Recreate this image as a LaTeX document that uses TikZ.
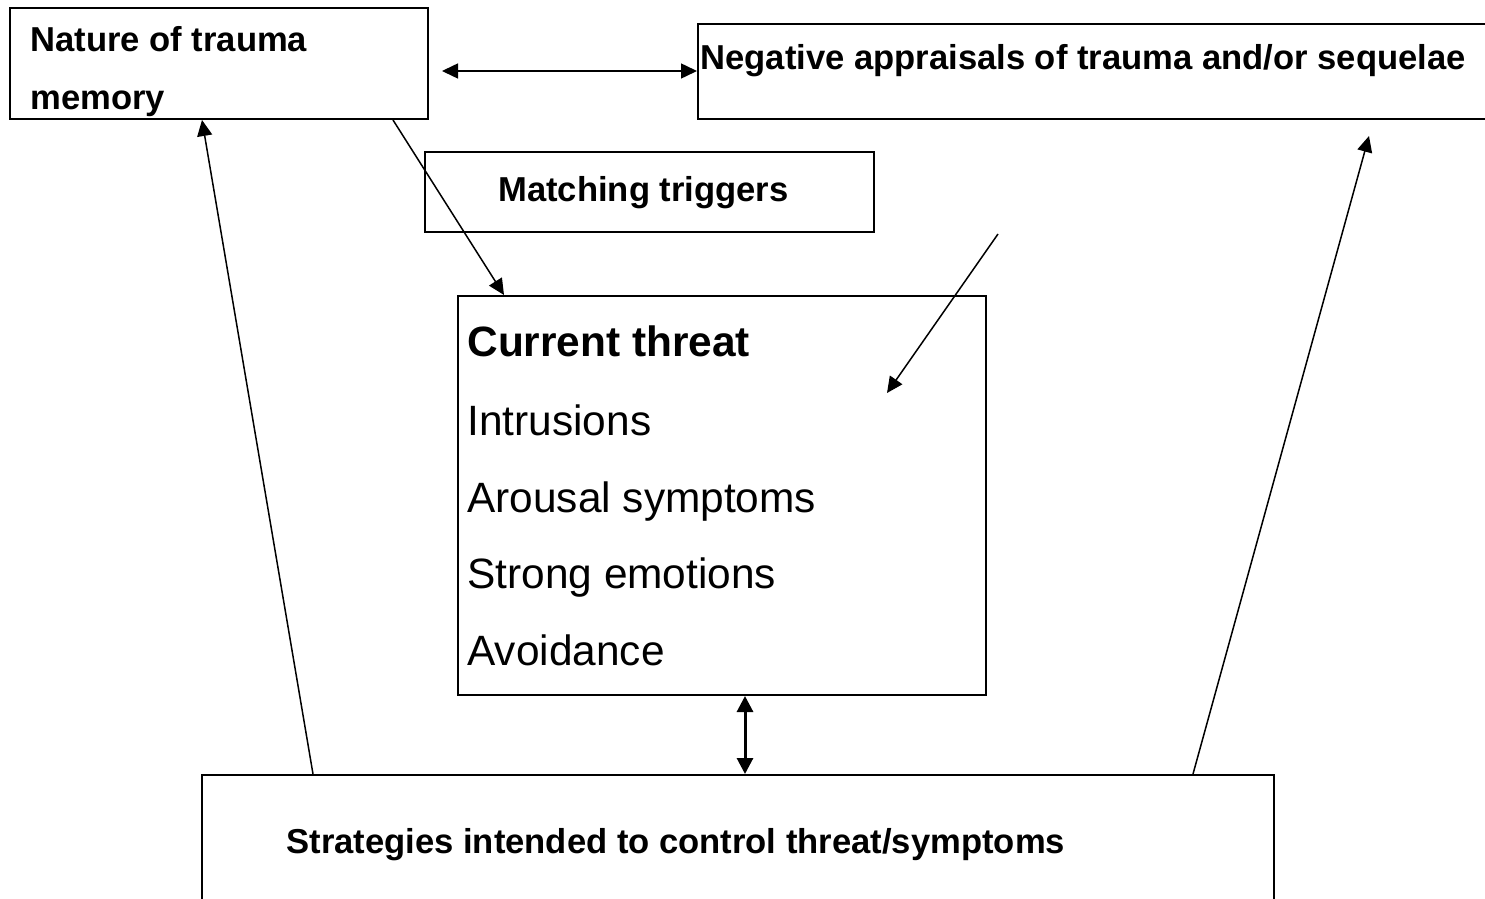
\documentclass[tikz,border=0pt]{standalone}
\usepackage{fontspec}
\setmainfont{Liberation Sans}
\usetikzlibrary{arrows.meta}
\tikzset{
  box/.style={draw, line width=1pt, inner sep=0pt, anchor=north west},
  lbl/.style={inner sep=0pt, anchor=base west, font=\fontsize{17.3}{20}\selectfont\bfseries},
  item/.style={inner sep=0pt, anchor=base west, font=\fontsize{21.2}{25}\selectfont},
  conn/.style={line width=0.75pt, -{Triangle[length=8pt,width=7.5pt]}},
  dconn/.style={line width=0.75pt, {Triangle[length=8pt,width=7.5pt]}-{Triangle[length=8pt,width=7.5pt]}},
  thickconn/.style={line width=1.5pt, {Triangle[length=8pt,width=8pt]}-{Triangle[length=8pt,width=8pt]}}
}
\begin{document}
\begin{tikzpicture}[x=0.5pt,y=-0.5pt]
\useasboundingbox (0,0) rectangle (1485,899);
% boxes
\node[box, minimum width=209pt, minimum height=55.5pt] (nat) at (9,7) {};
\node[box, minimum width=399pt, minimum height=47.5pt] (neg) at (697,23) {};
\node[box, minimum width=224.5pt, minimum height=40pt] (mat) at (424,151) {};
\node[box, minimum width=264pt, minimum height=199.5pt] (cur) at (457,295) {};
\node[box, minimum width=536pt, minimum height=70pt] (str) at (201,774) {};
% texts
\node[lbl] (natA) at (30,52) {Nature of trauma};
\node[lbl] (natB) at (30,110) {memory};
\node[lbl] (negT) at (700,70) {Negative appraisals of trauma and/or sequelae};
\node[lbl] (matT) at (498,202) {Matching triggers};
\node[item, font=\fontsize{21.2}{25}\selectfont\bfseries] (curT) at (467,357) {Current threat};
\node[item] (i1) at (467,435) {Intrusions};
\node[item] (i2) at (467,512) {Arousal symptoms};
\node[item] (i3) at (467,588) {Strong emotions};
\node[item] (i4) at (467,665) {Avoidance};
\node[lbl] (strT) at (286,853) {Strategies intended to control threat/symptoms};
% connector coordinates
\coordinate (a1) at (442,71);
\coordinate (a2) at (697,71);
\coordinate (b1) at (393,0);
\coordinate (b2) at (504,0);
\coordinate (c1) at (998,234);
\coordinate (c2) at (887,393);
\coordinate (v) at (745,0);
\coordinate (l1) at (313,0);
\coordinate (l2) at (202,0);
\coordinate (r1) at (1193,0);
\coordinate (r2) at (1369,136);
% connectors
\draw[dconn] (a1) -- (a2);
\draw[conn] (nat.south -| b1) -- (cur.north -| b2);
\draw[conn] (c1) -- (c2);
\draw[thickconn] (cur.south -| v) -- (str.north -| v);
\draw[conn] (str.north -| l1) -- (nat.south -| l2);
\draw[conn] (str.north -| r1) -- (r2);
\end{tikzpicture}
\end{document}
